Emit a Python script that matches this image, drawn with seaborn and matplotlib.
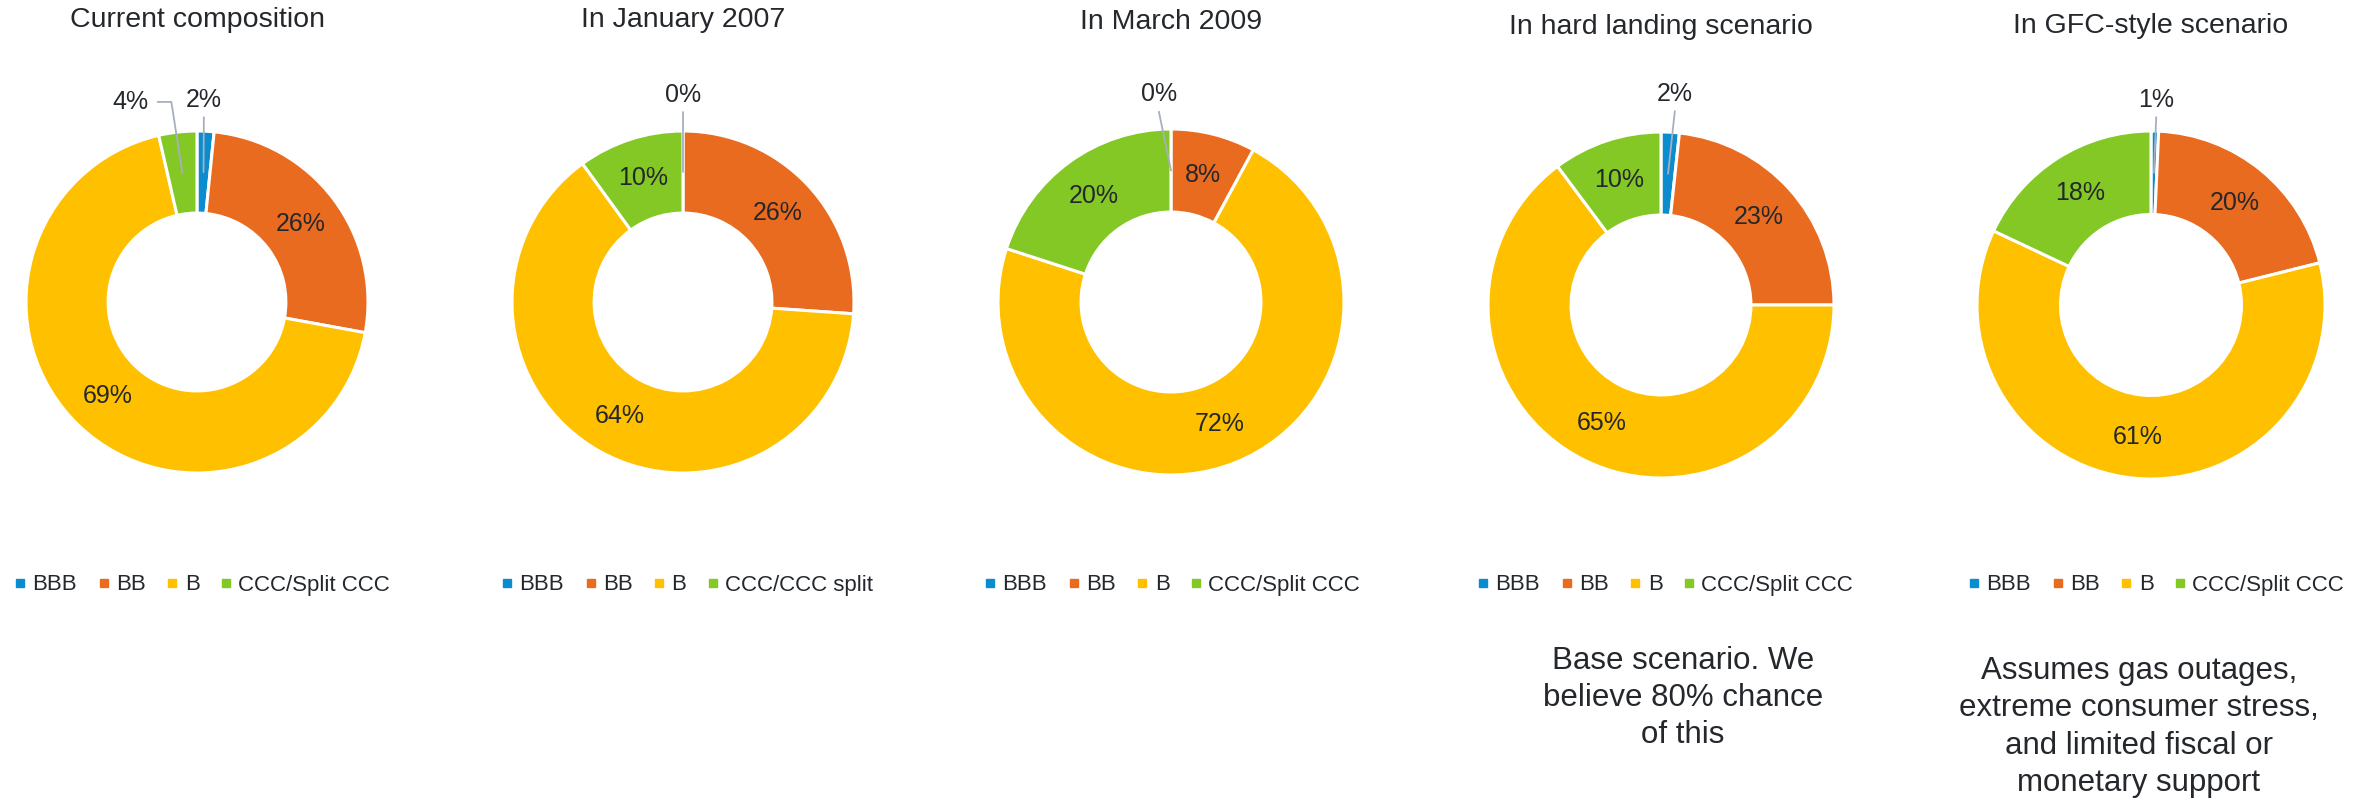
import numpy as np
import matplotlib
matplotlib.use("Agg")
import matplotlib.pyplot as plt
from matplotlib.lines import Line2D
import seaborn as sns

# ---------------- data ----------------
categories = ["BBB", "BB", "B", "CCC/Split CCC"]
legend_labels_jan2007 = ["BBB", "BB", "B", "CCC/CCC split"]
titles = ["Current composition", "In January 2007", "In March 2009",
          "In hard landing scenario", "In GFC-style scenario"]
current_composition = [1.6, 26.3, 68.6, 3.6]
january_2007 = [0.0, 26.1, 63.9, 10.0]
march_2009 = [0.0, 7.9, 72.1, 20.0]
hard_landing = [1.7, 23.3, 64.8, 10.2]
gfc_style = [0.7, 20.4, 60.9, 18.0]
notes = ["", "", "",
         "Base scenario. We\nbelieve 80% chance\nof this",
         "Assumes gas outages,\nextreme consumer stress,\nand limited fiscal or\nmonetary support"]

series = [current_composition, january_2007, march_2009, hard_landing, gfc_style]
legend_sets = [categories, legend_labels_jan2007, categories, categories, categories]

# ---------------- style ----------------
sns.set_theme(style="white")
plt.rcParams["font.family"] = ["Liberation Sans", "DejaVu Sans"]
palette = sns.color_palette(["#0A8CCF", "#E96B1F", "#FFC000", "#84C825"])
TXT = "#24272C"
LEADER = "#A7AFBE"

W, H = 2374, 800
fig = plt.figure(figsize=(W / 100, H / 100), dpi=100)

# layout (pixels): donut centre x, centre y (from top), radius
centres = [(197, 302, 171), (683, 302, 171), (1171, 302, 173),
           (1661, 305, 173), (2151, 305, 174)]
title_y = [20, 20, 22, 27, 26]
legend_x = [203, 688, 1173, 1666, 2157]
legend_y = 585
note_x = [0, 0, 0, 1683, 2139]
note_y = [0, 0, 0, 698, 727]
# external label placement (data units, radius = 1): (panel, category index) -> (x, y, elbow)
ext_pos = {(0, 0): (0.04, 1.18, False), (0, 3): (-0.39, 1.17, True),
           (1, 0): (0.0, 1.21, False), (2, 0): (-0.07, 1.20, False),
           (3, 0): (0.08, 1.22, False), (4, 0): (0.03, 1.18, False)}

RING = 0.48
MID = 1 - RING / 2

for i, vals in enumerate(series):
    cx, cy, r = centres[i]
    ax = fig.add_axes([(cx - r) / W, (H - cy - r) / H, 2 * r / W, 2 * r / H])
    wedges, _ = ax.pie(vals, colors=palette, startangle=90, counterclock=False,
                       radius=1, wedgeprops=dict(width=RING, edgecolor="white",
                                                 linewidth=2.2))
    ax.set_xlim(-1, 1)
    ax.set_ylim(-1, 1)
    ax.set_aspect("equal")
    ax.axis("off")

    total = sum(vals)
    cum = 0.0
    for j, v in enumerate(vals):
        theta = np.deg2rad((cum + v / 2) / total * 360)
        cum += v
        mx, my = MID * np.sin(theta), MID * np.cos(theta)
        label = f"{round(v)}%"
        if (i, j) in ext_pos:
            lx, ly, elbow = ext_pos[(i, j)]
            ax.text(lx, ly, label, ha="center", va="center", fontsize=18,
                    color=TXT)
            if elbow:
                ax.plot([lx + 0.16, lx + 0.24, mx], [ly, ly, my], color=LEADER,
                        lw=1.3, clip_on=False)
            else:
                ax.plot([lx, mx], [ly - 0.10, my], color=LEADER, lw=1.3,
                        clip_on=False)
        else:
            ax.text(mx, my, label, ha="center", va="center", fontsize=18,
                    color=TXT)

    fig.text(cx / W, 1 - title_y[i] / H, titles[i], ha="center", va="center",
             fontsize=20.5, color=TXT)

    handles = [Line2D([], [], marker="s", linestyle="", markersize=5.2,
                      color=palette[k]) for k in range(len(categories))]
    ax.legend(handles, legend_sets[i], loc="center",
              bbox_to_anchor=(legend_x[i] / W, 1 - legend_y / H),
              bbox_transform=fig.transFigure, ncol=4, frameon=False,
              fontsize=16, handlelength=0.4, handletextpad=0.35,
              columnspacing=1.0, borderpad=0, borderaxespad=0,
              labelcolor=TXT)

    if notes[i]:
        fig.text(note_x[i] / W, 1 - note_y[i] / H, notes[i], ha="center",
                 va="center", fontsize=22.5, color=TXT, linespacing=1.32,
                 multialignment="center")

fig.savefig("out.png", dpi=100)
